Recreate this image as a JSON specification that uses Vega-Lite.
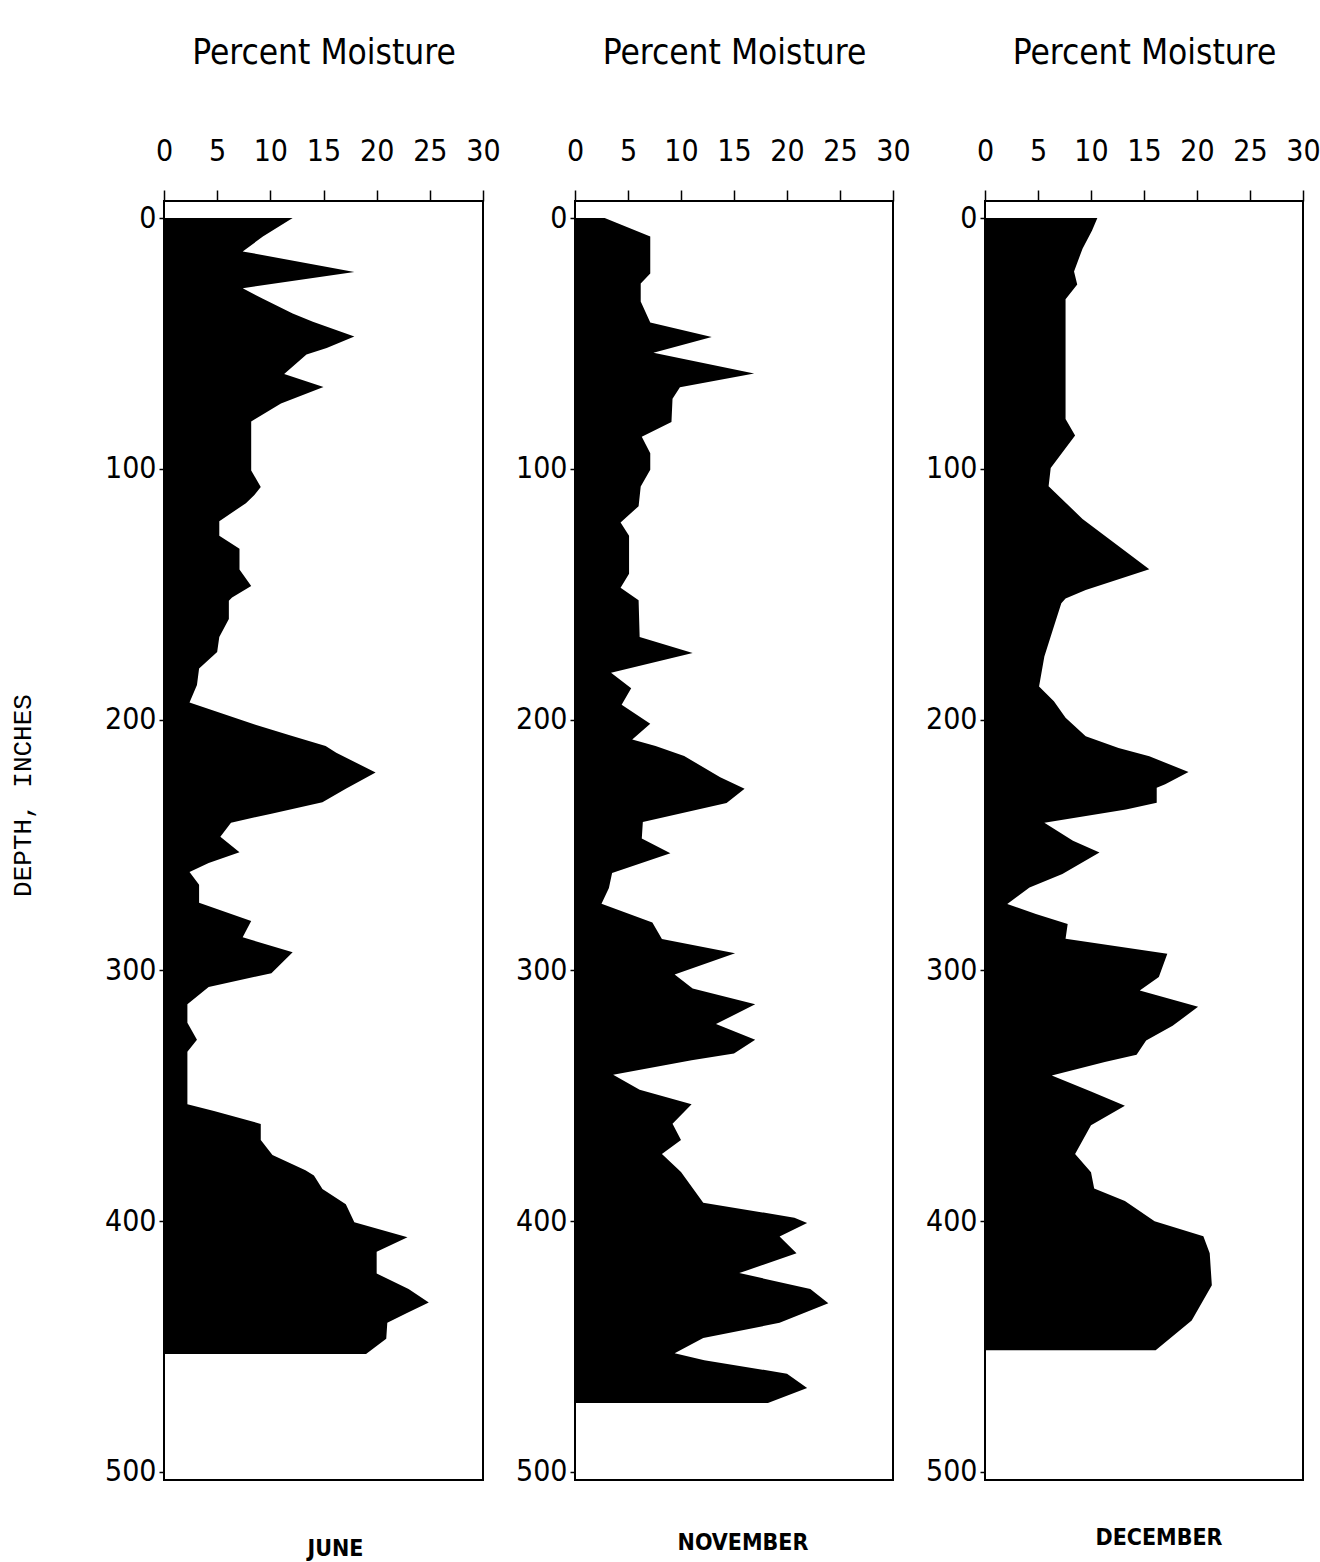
{
  "$schema": "https://vega.github.io/schema/vega-lite/v6.json",
  "padding": {"left": 8, "top": 34, "right": 0, "bottom": 5},
  "background": "white",
  "data": {"values": [
    {"month": "JUNE", "depth": 0, "moisture": 12.1},
    {"month": "JUNE", "depth": 7.4, "moisture": 9.3},
    {"month": "JUNE", "depth": 13.3, "moisture": 7.4},
    {"month": "JUNE", "depth": 21.5, "moisture": 17.9},
    {"month": "JUNE", "depth": 28, "moisture": 7.4},
    {"month": "JUNE", "depth": 32.2, "moisture": 9.3},
    {"month": "JUNE", "depth": 38.1, "moisture": 12.1},
    {"month": "JUNE", "depth": 41.3, "moisture": 14.0},
    {"month": "JUNE", "depth": 47.2, "moisture": 17.9},
    {"month": "JUNE", "depth": 51.8, "moisture": 15.3},
    {"month": "JUNE", "depth": 54.4, "moisture": 13.4},
    {"month": "JUNE", "depth": 62.2, "moisture": 11.3},
    {"month": "JUNE", "depth": 67.4, "moisture": 15.0},
    {"month": "JUNE", "depth": 73.9, "moisture": 11.0},
    {"month": "JUNE", "depth": 81.1, "moisture": 8.2},
    {"month": "JUNE", "depth": 100.7, "moisture": 8.2},
    {"month": "JUNE", "depth": 107.2, "moisture": 9.1},
    {"month": "JUNE", "depth": 110.4, "moisture": 8.5},
    {"month": "JUNE", "depth": 113.7, "moisture": 7.7},
    {"month": "JUNE", "depth": 120.9, "moisture": 5.2},
    {"month": "JUNE", "depth": 126.7, "moisture": 5.2},
    {"month": "JUNE", "depth": 131.9, "moisture": 7.1},
    {"month": "JUNE", "depth": 140.1, "moisture": 7.1},
    {"month": "JUNE", "depth": 146.7, "moisture": 8.2},
    {"month": "JUNE", "depth": 151.3, "moisture": 6.4},
    {"month": "JUNE", "depth": 152.6, "moisture": 6.1},
    {"month": "JUNE", "depth": 159.9, "moisture": 6.1},
    {"month": "JUNE", "depth": 167.1, "moisture": 5.2},
    {"month": "JUNE", "depth": 173, "moisture": 5.0},
    {"month": "JUNE", "depth": 179.6, "moisture": 3.3},
    {"month": "JUNE", "depth": 186.2, "moisture": 3.1},
    {"month": "JUNE", "depth": 193.2, "moisture": 2.4},
    {"month": "JUNE", "depth": 202, "moisture": 8.6},
    {"month": "JUNE", "depth": 206.3, "moisture": 11.9},
    {"month": "JUNE", "depth": 210.5, "moisture": 15.2},
    {"month": "JUNE", "depth": 213.2, "moisture": 16.2},
    {"month": "JUNE", "depth": 221.1, "moisture": 19.9},
    {"month": "JUNE", "depth": 227.6, "moisture": 17.1},
    {"month": "JUNE", "depth": 232.9, "moisture": 14.9},
    {"month": "JUNE", "depth": 237.5, "moisture": 10.1},
    {"month": "JUNE", "depth": 241.1, "moisture": 6.3},
    {"month": "JUNE", "depth": 246.7, "moisture": 5.3},
    {"month": "JUNE", "depth": 252.9, "moisture": 7.1},
    {"month": "JUNE", "depth": 257.2, "moisture": 4.2},
    {"month": "JUNE", "depth": 260.8, "moisture": 2.4},
    {"month": "JUNE", "depth": 265.8, "moisture": 3.3},
    {"month": "JUNE", "depth": 273, "moisture": 3.3},
    {"month": "JUNE", "depth": 280.3, "moisture": 8.2},
    {"month": "JUNE", "depth": 286.8, "moisture": 7.4},
    {"month": "JUNE", "depth": 292.8, "moisture": 12.1},
    {"month": "JUNE", "depth": 301.1, "moisture": 10.1},
    {"month": "JUNE", "depth": 306.6, "moisture": 4.2},
    {"month": "JUNE", "depth": 313.5, "moisture": 2.2},
    {"month": "JUNE", "depth": 320.9, "moisture": 2.2},
    {"month": "JUNE", "depth": 327.7, "moisture": 3.1},
    {"month": "JUNE", "depth": 332.4, "moisture": 2.2},
    {"month": "JUNE", "depth": 353.4, "moisture": 2.2},
    {"month": "JUNE", "depth": 356.1, "moisture": 4.7},
    {"month": "JUNE", "depth": 361.2, "moisture": 9.1},
    {"month": "JUNE", "depth": 367.6, "moisture": 9.1},
    {"month": "JUNE", "depth": 373.6, "moisture": 10.2},
    {"month": "JUNE", "depth": 379.7, "moisture": 13.3},
    {"month": "JUNE", "depth": 381.8, "moisture": 14.1},
    {"month": "JUNE", "depth": 387.2, "moisture": 14.9},
    {"month": "JUNE", "depth": 393.2, "moisture": 17.1},
    {"month": "JUNE", "depth": 400.4, "moisture": 17.9},
    {"month": "JUNE", "depth": 406.4, "moisture": 22.9},
    {"month": "JUNE", "depth": 412.2, "moisture": 20.0},
    {"month": "JUNE", "depth": 420.9, "moisture": 20.0},
    {"month": "JUNE", "depth": 427, "moisture": 23.0},
    {"month": "JUNE", "depth": 432.4, "moisture": 24.9},
    {"month": "JUNE", "depth": 436.5, "moisture": 22.9},
    {"month": "JUNE", "depth": 440.5, "moisture": 21.0},
    {"month": "JUNE", "depth": 446.9, "moisture": 20.9},
    {"month": "JUNE", "depth": 453, "moisture": 19.0},
    {"month": "NOVEMBER", "depth": 0, "moisture": 2.8},
    {"month": "NOVEMBER", "depth": 7.4, "moisture": 7.1},
    {"month": "NOVEMBER", "depth": 22.1, "moisture": 7.1},
    {"month": "NOVEMBER", "depth": 26.1, "moisture": 6.2},
    {"month": "NOVEMBER", "depth": 33.3, "moisture": 6.2},
    {"month": "NOVEMBER", "depth": 41.6, "moisture": 7.1},
    {"month": "NOVEMBER", "depth": 47.4, "moisture": 12.9},
    {"month": "NOVEMBER", "depth": 53.7, "moisture": 7.4},
    {"month": "NOVEMBER", "depth": 62, "moisture": 16.9},
    {"month": "NOVEMBER", "depth": 67.5, "moisture": 9.9},
    {"month": "NOVEMBER", "depth": 72.1, "moisture": 9.2},
    {"month": "NOVEMBER", "depth": 81.3, "moisture": 9.1},
    {"month": "NOVEMBER", "depth": 87.2, "moisture": 6.3},
    {"month": "NOVEMBER", "depth": 93.8, "moisture": 7.1},
    {"month": "NOVEMBER", "depth": 100.4, "moisture": 7.1},
    {"month": "NOVEMBER", "depth": 107, "moisture": 6.2},
    {"month": "NOVEMBER", "depth": 114.9, "moisture": 6.0},
    {"month": "NOVEMBER", "depth": 121.4, "moisture": 4.3},
    {"month": "NOVEMBER", "depth": 126.7, "moisture": 5.1},
    {"month": "NOVEMBER", "depth": 141.8, "moisture": 5.1},
    {"month": "NOVEMBER", "depth": 147.4, "moisture": 4.3},
    {"month": "NOVEMBER", "depth": 152.4, "moisture": 6.0},
    {"month": "NOVEMBER", "depth": 167.1, "moisture": 6.1},
    {"month": "NOVEMBER", "depth": 173.4, "moisture": 11.1},
    {"month": "NOVEMBER", "depth": 181.3, "moisture": 3.4},
    {"month": "NOVEMBER", "depth": 187.5, "moisture": 5.3},
    {"month": "NOVEMBER", "depth": 194.1, "moisture": 4.4},
    {"month": "NOVEMBER", "depth": 201.6, "moisture": 7.1},
    {"month": "NOVEMBER", "depth": 207.9, "moisture": 5.4},
    {"month": "NOVEMBER", "depth": 210.5, "moisture": 7.6},
    {"month": "NOVEMBER", "depth": 214.5, "moisture": 10.3},
    {"month": "NOVEMBER", "depth": 223, "moisture": 13.7},
    {"month": "NOVEMBER", "depth": 227.6, "moisture": 16.0},
    {"month": "NOVEMBER", "depth": 233.2, "moisture": 14.3},
    {"month": "NOVEMBER", "depth": 240.8, "moisture": 6.4},
    {"month": "NOVEMBER", "depth": 247.4, "moisture": 6.3},
    {"month": "NOVEMBER", "depth": 253.3, "moisture": 9.0},
    {"month": "NOVEMBER", "depth": 261.2, "moisture": 3.5},
    {"month": "NOVEMBER", "depth": 267.1, "moisture": 3.2},
    {"month": "NOVEMBER", "depth": 273.4, "moisture": 2.5},
    {"month": "NOVEMBER", "depth": 280.9, "moisture": 7.3},
    {"month": "NOVEMBER", "depth": 287.5, "moisture": 8.2},
    {"month": "NOVEMBER", "depth": 293.2, "moisture": 15.1},
    {"month": "NOVEMBER", "depth": 301.6, "moisture": 9.4},
    {"month": "NOVEMBER", "depth": 307.2, "moisture": 11.1},
    {"month": "NOVEMBER", "depth": 313.5, "moisture": 17.0},
    {"month": "NOVEMBER", "depth": 321.4, "moisture": 13.3},
    {"month": "NOVEMBER", "depth": 327.7, "moisture": 17.0},
    {"month": "NOVEMBER", "depth": 333.1, "moisture": 15.0},
    {"month": "NOVEMBER", "depth": 335.8, "moisture": 11.0},
    {"month": "NOVEMBER", "depth": 341.6, "moisture": 3.6},
    {"month": "NOVEMBER", "depth": 347.6, "moisture": 6.1},
    {"month": "NOVEMBER", "depth": 353.4, "moisture": 11.0},
    {"month": "NOVEMBER", "depth": 361.1, "moisture": 9.2},
    {"month": "NOVEMBER", "depth": 367.6, "moisture": 10.0},
    {"month": "NOVEMBER", "depth": 373.2, "moisture": 8.2},
    {"month": "NOVEMBER", "depth": 380.4, "moisture": 10.0},
    {"month": "NOVEMBER", "depth": 392.6, "moisture": 12.1},
    {"month": "NOVEMBER", "depth": 398.6, "moisture": 20.7},
    {"month": "NOVEMBER", "depth": 400.7, "moisture": 21.9},
    {"month": "NOVEMBER", "depth": 406.1, "moisture": 19.3},
    {"month": "NOVEMBER", "depth": 412.8, "moisture": 20.9},
    {"month": "NOVEMBER", "depth": 420.7, "moisture": 15.5},
    {"month": "NOVEMBER", "depth": 427, "moisture": 22.2},
    {"month": "NOVEMBER", "depth": 432.7, "moisture": 23.9},
    {"month": "NOVEMBER", "depth": 440.5, "moisture": 19.3},
    {"month": "NOVEMBER", "depth": 446.6, "moisture": 12.1},
    {"month": "NOVEMBER", "depth": 452.7, "moisture": 9.4},
    {"month": "NOVEMBER", "depth": 455.4, "moisture": 12.2},
    {"month": "NOVEMBER", "depth": 460.8, "moisture": 20.0},
    {"month": "NOVEMBER", "depth": 466.5, "moisture": 21.9},
    {"month": "NOVEMBER", "depth": 472.5, "moisture": 18.2},
    {"month": "DECEMBER", "depth": 0, "moisture": 10.6},
    {"month": "DECEMBER", "depth": 5, "moisture": 10.1},
    {"month": "DECEMBER", "depth": 12.2, "moisture": 9.2},
    {"month": "DECEMBER", "depth": 21.3, "moisture": 8.4},
    {"month": "DECEMBER", "depth": 26.5, "moisture": 8.7},
    {"month": "DECEMBER", "depth": 32.4, "moisture": 7.6},
    {"month": "DECEMBER", "depth": 80.1, "moisture": 7.6},
    {"month": "DECEMBER", "depth": 86.7, "moisture": 8.5},
    {"month": "DECEMBER", "depth": 99.7, "moisture": 6.2},
    {"month": "DECEMBER", "depth": 106.9, "moisture": 6.0},
    {"month": "DECEMBER", "depth": 120, "moisture": 9.2},
    {"month": "DECEMBER", "depth": 140, "moisture": 15.5},
    {"month": "DECEMBER", "depth": 148.3, "moisture": 9.5},
    {"month": "DECEMBER", "depth": 151.7, "moisture": 7.6},
    {"month": "DECEMBER", "depth": 153.6, "moisture": 7.2},
    {"month": "DECEMBER", "depth": 164.2, "moisture": 6.4},
    {"month": "DECEMBER", "depth": 174.8, "moisture": 5.6},
    {"month": "DECEMBER", "depth": 186.8, "moisture": 5.1},
    {"month": "DECEMBER", "depth": 192.7, "moisture": 6.5},
    {"month": "DECEMBER", "depth": 199.3, "moisture": 7.6},
    {"month": "DECEMBER", "depth": 206.6, "moisture": 9.5},
    {"month": "DECEMBER", "depth": 211.3, "moisture": 12.6},
    {"month": "DECEMBER", "depth": 214.6, "moisture": 15.5},
    {"month": "DECEMBER", "depth": 220.9, "moisture": 19.2},
    {"month": "DECEMBER", "depth": 225.8, "moisture": 17.0},
    {"month": "DECEMBER", "depth": 227.2, "moisture": 16.2},
    {"month": "DECEMBER", "depth": 233.1, "moisture": 16.2},
    {"month": "DECEMBER", "depth": 235.8, "moisture": 13.3},
    {"month": "DECEMBER", "depth": 241.1, "moisture": 5.6},
    {"month": "DECEMBER", "depth": 248.3, "moisture": 8.3},
    {"month": "DECEMBER", "depth": 253, "moisture": 10.8},
    {"month": "DECEMBER", "depth": 261.6, "moisture": 7.3},
    {"month": "DECEMBER", "depth": 266.9, "moisture": 4.2},
    {"month": "DECEMBER", "depth": 273.5, "moisture": 2.1},
    {"month": "DECEMBER", "depth": 277.5, "moisture": 4.8},
    {"month": "DECEMBER", "depth": 281.5, "moisture": 7.8},
    {"month": "DECEMBER", "depth": 287.4, "moisture": 7.6},
    {"month": "DECEMBER", "depth": 293.4, "moisture": 17.2},
    {"month": "DECEMBER", "depth": 302.6, "moisture": 16.4},
    {"month": "DECEMBER", "depth": 308, "moisture": 14.6},
    {"month": "DECEMBER", "depth": 314.5, "moisture": 20.1},
    {"month": "DECEMBER", "depth": 322.1, "moisture": 17.7},
    {"month": "DECEMBER", "depth": 327.9, "moisture": 15.2},
    {"month": "DECEMBER", "depth": 333.6, "moisture": 14.3},
    {"month": "DECEMBER", "depth": 336.5, "moisture": 11.3},
    {"month": "DECEMBER", "depth": 341.9, "moisture": 6.3},
    {"month": "DECEMBER", "depth": 348.3, "moisture": 10.0},
    {"month": "DECEMBER", "depth": 354, "moisture": 13.2},
    {"month": "DECEMBER", "depth": 361.7, "moisture": 10.0},
    {"month": "DECEMBER", "depth": 373.2, "moisture": 8.5},
    {"month": "DECEMBER", "depth": 380.5, "moisture": 10.0},
    {"month": "DECEMBER", "depth": 387, "moisture": 10.3},
    {"month": "DECEMBER", "depth": 391.9, "moisture": 13.2},
    {"month": "DECEMBER", "depth": 400, "moisture": 16.0},
    {"month": "DECEMBER", "depth": 406, "moisture": 20.6},
    {"month": "DECEMBER", "depth": 412.8, "moisture": 21.2},
    {"month": "DECEMBER", "depth": 425.5, "moisture": 21.4},
    {"month": "DECEMBER", "depth": 439.6, "moisture": 19.5},
    {"month": "DECEMBER", "depth": 451.5, "moisture": 16.1}
  ]},
  "spacing": 12,
  "hconcat": [
    {
      "width": 319, "height": 1279,
      "transform": [{"filter": "datum.month === 'JUNE'"}],
      "title": {"text": "JUNE", "orient": "bottom", "offset": 51, "dx": 12},
      "mark": {"type": "area", "orient": "horizontal", "color": "black", "interpolate": "linear"},
      "encoding": {
        "y": {"field": "depth", "type": "quantitative", "scale": {"domain": [-6.8, 503.2], "nice": false, "zero": false, "reverse": true},
              "axis": {"title": "DEPTH, INCHES", "values": [0, 100, 200, 300, 400, 500], "titlePadding": 69, "titleY": 594}},
        "x": {"field": "moisture", "type": "quantitative", "scale": {"domain": [0, 30], "nice": false},
              "axis": {"title": "Percent Moisture"}}
      }
    },
    {
      "width": 318, "height": 1279,
      "transform": [{"filter": "datum.month === 'NOVEMBER'"}],
      "title": {"text": "NOVEMBER", "orient": "bottom", "offset": 45, "dx": 9},
      "mark": {"type": "area", "orient": "horizontal", "color": "black", "interpolate": "linear"},
      "encoding": {
        "y": {"field": "depth", "type": "quantitative", "scale": {"domain": [-6.8, 503.2], "nice": false, "zero": false, "reverse": true},
              "axis": {"title": null, "values": [0, 100, 200, 300, 400, 500]}},
        "x": {"field": "moisture", "type": "quantitative", "scale": {"domain": [0, 30], "nice": false},
              "axis": {"title": "Percent Moisture"}}
      }
    },
    {
      "width": 318, "height": 1279,
      "transform": [{"filter": "datum.month === 'DECEMBER'"}],
      "title": {"text": "DECEMBER", "orient": "bottom", "offset": 40, "dx": 15},
      "mark": {"type": "area", "orient": "horizontal", "color": "black", "interpolate": "linear"},
      "encoding": {
        "y": {"field": "depth", "type": "quantitative", "scale": {"domain": [-6.8, 503.2], "nice": false, "zero": false, "reverse": true},
              "axis": {"title": null, "values": [0, 100, 200, 300, 400, 500]}},
        "x": {"field": "moisture", "type": "quantitative", "scale": {"domain": [0, 30], "nice": false},
              "axis": {"title": "Percent Moisture"}}
      }
    }
  ],
  "config": {
    "view": {"stroke": "black", "strokeWidth": 2},
    "axis": {
      "domain": false, "grid": false,
      "labelColor": "black", "titleColor": "black", "tickColor": "black",
      "labelFont": "DejaVu Sans Condensed",
      "titleFont": "DejaVu Sans Condensed",
      "titleFontWeight": "normal"
    },
    "axisX": {
      "orient": "top",
      "values": [0,0.5,1,1.5,2,2.5,3,3.5,4,4.5,5,5.5,6,6.5,7,7.5,8,8.5,9,9.5,10,10.5,11,11.5,12,12.5,13,13.5,14,14.5,15,15.5,16,16.5,17,17.5,18,18.5,19,19.5,20,20.5,21,21.5,22,22.5,23,23.5,24,24.5,25,25.5,26,26.5,27,27.5,28,28.5,29,29.5,30],
      "labelExpr": "datum.value % 5 === 0 ? datum.label : ''",
      "labelOverlap": false,
      "labelFlush": false,
      "labelFontSize": 30,
      "labelPadding": 24,
      "tickSize": {"condition": {"test": "datum.value % 5 === 0", "value": 11}, "value": 6},
      "tickWidth": 1.5,
      "titleFontSize": 35,
      "titlePadding": 66
    },
    "axisY": {
      "labelFontSize": 30,
      "labelPadding": 3,
      "tickSize": 5,
      "tickWidth": 1.5,
      "titleFont": "Liberation Mono",
      "titleFontSize": 26
    },
    "title": {
      "font": "DejaVu Sans Condensed",
      "fontSize": 23,
      "fontWeight": "bold",
      "color": "black",
      "anchor": "middle"
    }
  }
}
